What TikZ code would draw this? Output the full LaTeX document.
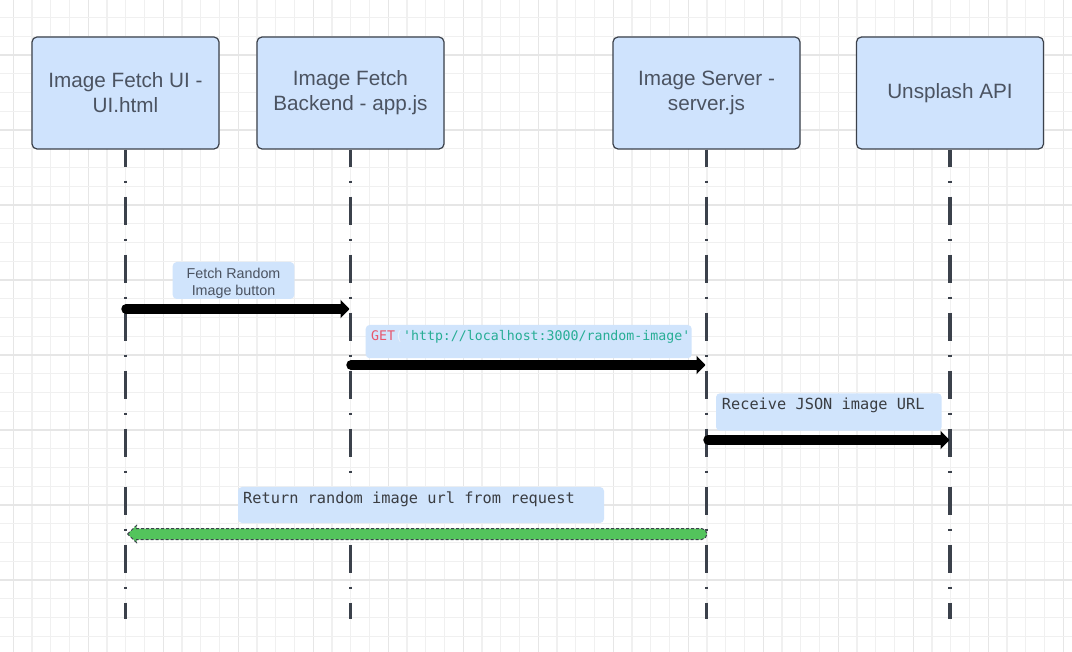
\documentclass[tikz,border=0pt]{standalone}
\usepackage{fontspec}
\setmainfont{Liberation Sans}
\newfontfamily\monofont{DejaVu Sans Mono}
\usetikzlibrary{arrows.meta,calc}
\definecolor{boxfill}{HTML}{CFE3FD}
\definecolor{lblfill}{HTML}{D0E4FC}
\definecolor{edge}{HTML}{3B414B}
\definecolor{txt}{HTML}{4B5361}
\definecolor{monotxt}{HTML}{3A3D42}
\definecolor{gridminor}{HTML}{F0F0F0}
\definecolor{gridmajor}{HTML}{E6E6E6}
\definecolor{msggreen}{HTML}{53C45C}
\definecolor{getred}{HTML}{E8566C}
\definecolor{paren}{HTML}{E8F0FA}
\definecolor{strteal}{HTML}{26AD95}
\tikzset{
  actor/.style={draw=edge, line width=1.2pt, fill=boxfill, rounded corners=5pt,
    minimum width=187pt, minimum height=112pt, inner sep=0pt, align=center,
    text=txt, font=\fontsize{20.7pt}{25pt}\selectfont},
  lifeline/.style={draw=edge, line width=3.3pt, dash pattern=on 28pt off 14pt on 2pt off 14pt, dash phase=11pt},
  lblbox/.style={fill=lblfill, rounded corners=4pt, inner sep=0pt},
  msg/.style={draw=black, line width=9.5pt, line cap=round, -{Triangle[length=9pt,width=18pt]}},
  retmsg/.style={fill=msggreen, draw=edge, line width=1pt, dash pattern=on 3pt off 2pt},
  sanslbl/.style={align=center, text=txt, inner sep=0pt, font=\fontsize{14.3pt}{17pt}\selectfont},
  monolbl/.style={anchor=west, inner sep=0pt, text=monotxt, font=\monofont\fontsize{15.3pt}{18pt}\selectfont},
}
\begin{document}
\begin{tikzpicture}[x=1pt,y=-1pt]
\useasboundingbox (0,0) rectangle (1072,652);
\fill[white] (0,0) rectangle (1072,652);
% grid
\foreach \i in {0,...,56} {
  \pgfmathtruncatemacro{\m}{mod(\i,4)}
  \ifnum\m=0
    \draw[gridmajor, line width=1.3pt] ({13.3+18.75*\i},0) -- ({13.3+18.75*\i},652);
  \else
    \draw[gridminor, line width=1.3pt] ({13.3+18.75*\i},0) -- ({13.3+18.75*\i},652);
  \fi
}
\foreach \j in {0,...,34} {
  \pgfmathtruncatemacro{\m}{mod(\j,4)}
  \ifnum\m=2
    \draw[gridmajor, line width=1.3pt] (0,{17.5+18.75*\j}) -- (1072,{17.5+18.75*\j});
  \else
    \draw[gridminor, line width=1.3pt] (0,{17.5+18.75*\j}) -- (1072,{17.5+18.75*\j});
  \fi
}
% actors
\node[actor] (ui) at (125.5,93) {Image Fetch UI -\\UI.html};
\node[actor] (be) at (350.5,93) {Image Fetch\\Backend - app.js};
\node[actor] (srv) at (706.5,93) {Image Server -\\server.js};
\node[actor] (api) at (950,93) {Unsplash API};
% lifeline ends
\coordinate (uiend) at (125.5,619);
\coordinate (beend) at (350.5,619);
\coordinate (srvend) at (706.5,619);
\coordinate (apiend) at (950,619);
\draw[lifeline] (ui.south) -- (uiend);
\draw[lifeline] (be.south) -- (beend);
\draw[lifeline] (srv.south) -- (srvend);
\draw[lifeline] (api.south) -- (apiend);
% labels
\node[lblbox, minimum width=121.6pt, minimum height=37pt] (l1) at (233.5,280.5) {};
\node[sanslbl] (t1) at (233.5,283) {Fetch Random\\Image button};
\node[lblbox, minimum width=326pt, minimum height=33.3pt] (l2) at (528.7,341.6) {};
\node[monolbl, font=\monofont\fontsize{13.25pt}{16pt}\selectfont] (t2) at (371,336.5)
  {\textcolor{getred}{GET}\textcolor{paren}{(}\textcolor{strteal}{'http://localhost:3000/random-image'}};
\node[lblbox, minimum width=225.7pt, minimum height=37.4pt] (l3) at (828.85,412) {};
\node[monolbl] (t3) at (721.7,405) {Receive JSON image URL};
\node[lblbox, minimum width=366pt, minimum height=36pt] (l4) at (421,505) {};
\node[monolbl] (t4) at (243,499) {Return random image url from request};
% messages
\coordinate (m1s) at (126,309);
\coordinate (m1e) at (349.5,309);
\coordinate (m2s) at (351,365);
\coordinate (m2e) at (705.5,365);
\coordinate (m3s) at (708,440);
\coordinate (m3e) at (949.5,440);
\draw[msg] (m1s) -- (m1e);
\draw[msg] (m2s) -- (m2e);
\draw[msg] (m3s) -- (m3e);
% return message (green)
\coordinate (m4s) at (701.5,534);
\coordinate (m4e) at (127.5,534);
\filldraw[retmsg] (m4e) -- ($(m4e)+(9,-8.5)$) -- ($(m4e)+(9,-5.5)$) -- ($(m4s)+(0,-5.5)$)
  arc(-90:90:5.5) -- ($(m4e)+(9,5.5)$) -- ($(m4e)+(9,8.5)$) -- cycle;
\end{tikzpicture}
\end{document}
